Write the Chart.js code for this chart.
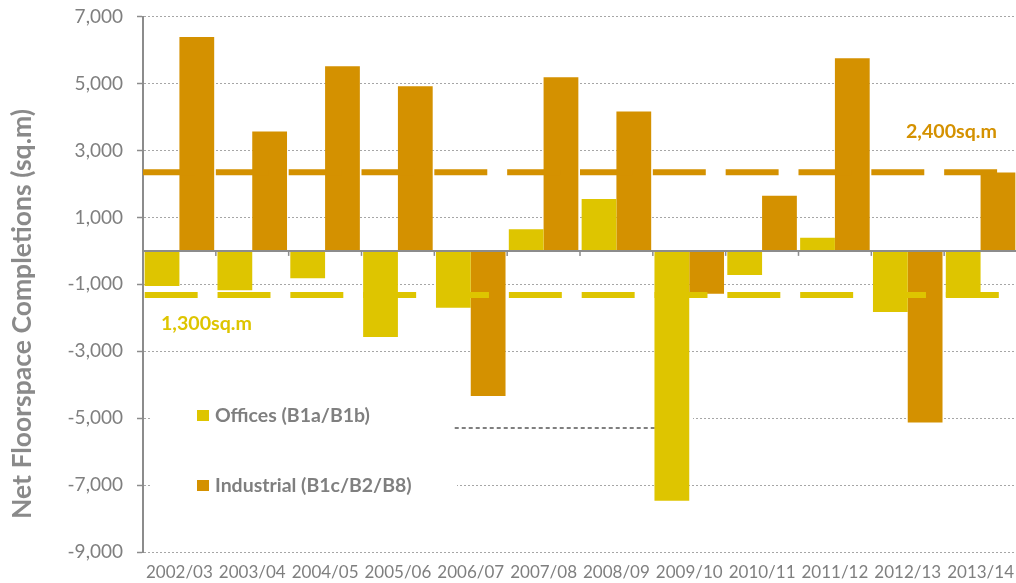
<!DOCTYPE html>
<html><head><meta charset="utf-8">
<script src="https://cdn.jsdelivr.net/npm/chart.js@4/dist/chart.umd.min.js"></script>
<style>html,body{margin:0;padding:0;overflow:hidden;background:#fff;width:1016px;height:583px}canvas{display:block}</style>
</head><body>
<canvas id="c" width="1024" height="583"></canvas>
<script>
const categories = ['2002/03','2003/04','2004/05','2005/06','2006/07','2007/08','2008/09','2009/10','2010/11','2011/12','2012/13','2013/14'];
const offices    = [-1050,-1180,-820,-2570,-1700,650,1550,-7470,-720,390,-1830,-1380];
const industrial = [6390,3570,5520,4920,-4340,5190,4170,-1280,1650,5760,-5130,2340];
const officesAverage = -1320;
const industrialAverage = 2350;
const yTicks = [-9000,-7000,-5000,-3000,-1000,1000,3000,5000,7000];
const seriesNames = ['Offices (B1a/B1b)','Industrial (B1c/B2/B8)'];
const averageLabels = ['1,300sq.m','2,400sq.m'];
const axisTitle = 'Net Floorspace Completions (sq.m)';
const guideFrom = 4.28, guideTo = 7.05, guideValue = -5290;

const YELLOW = '#DEC500', ORANGE = '#D49100', GREY = '#7f7f7f';

function fitFont(ctx, text, weight, family, target){
  ctx.font = weight + ' 20px ' + family;
  const w = ctx.measureText(text).width;
  return 20 * target / w;
}

function catPx(x, v){ // position in category units (0 = left edge of first category)
  return x.left + v * (x.right - x.left) / categories.length;
}

function avgLine(ctx, chart, value, color, offset){
  const x = chart.scales.x, y = chart.scales.y;
  const cw = (x.right - x.left) / categories.length;
  const py = y.getPixelForValue(value);
  ctx.save();
  ctx.strokeStyle = color;
  ctx.lineWidth = 6;
  ctx.lineCap = 'butt';
  ctx.setLineDash([cw * 0.727, cw * 0.273]);
  ctx.lineDashOffset = offset;
  ctx.beginPath(); ctx.moveTo(x.left, py); ctx.lineTo(x.right, py); ctx.stroke();
  ctx.restore();
}

const decor = {
  id: 'decor',
  beforeDatasetsDraw(chart){
    const ctx = chart.ctx, y = chart.scales.y, x = chart.scales.x;
    ctx.save();
    ctx.fillStyle = '#fff';
    const t1 = y.getPixelForValue(-4500), b1 = y.getPixelForValue(-7700);
    ctx.fillRect(152, t1, 457 - 152, b1 - t1);
    const t2 = y.getPixelForValue(-4850), b2 = y.getPixelForValue(-5150);
    ctx.fillRect(457, t2, 693 - 457, b2 - t2);
    const gy = y.getPixelForValue(guideValue);
    ctx.strokeStyle = '#7f7f7f'; ctx.lineWidth = 2; ctx.setLineDash([4, 3]);
    ctx.beginPath(); ctx.moveTo(catPx(x, guideFrom), gy); ctx.lineTo(catPx(x, guideTo), gy); ctx.stroke();
    ctx.restore();
  },
  afterDatasetsDraw(chart){
    const ctx = chart.ctx, y = chart.scales.y, x = chart.scales.x;
    avgLine(ctx, chart, industrialAverage, ORANGE, 0);
    avgLine(ctx, chart, officesAverage, YELLOW, -1.7);
    const y0 = y.getPixelForValue(0);
    ctx.save();
    ctx.strokeStyle = '#8c8c8c';
    ctx.lineWidth = 2;
    ctx.beginPath(); ctx.moveTo(x.left, y0); ctx.lineTo(x.right, y0); ctx.stroke();
    ctx.lineWidth = 1.5;
    for (let i = 1; i <= categories.length; i++){
      const px = catPx(x, i);
      ctx.beginPath(); ctx.moveTo(px, y0); ctx.lineTo(px, y0 + 5); ctx.stroke();
    }
    ctx.restore();
  },
  afterDraw(chart){
    const ctx = chart.ctx;
    ctx.save();
    ctx.textBaseline = 'middle';
    let fs = fitFont(ctx, axisTitle, 'bold', 'Lato', 410);
    ctx.font = 'bold ' + fs + 'px Lato';
    ctx.fillStyle = '#8a8a8a';
    ctx.translate(22, 314); ctx.rotate(-Math.PI/2);
    ctx.textAlign = 'center';
    ctx.fillText(axisTitle, 0, 0);
    ctx.setTransform(1,0,0,1,0,0);
    ctx.textAlign = 'left';
    fs = fitFont(ctx, seriesNames[0], 'bold', 'Lato', 155);
    ctx.font = 'bold ' + fs + 'px Lato';
    ctx.fillStyle = YELLOW; ctx.fillRect(197, 410, 12, 11);
    ctx.fillStyle = ORANGE; ctx.fillRect(197, 480, 12, 11);
    ctx.fillStyle = GREY;
    ctx.fillText(seriesNames[0], 215, 415.5);
    ctx.fillText(seriesNames[1], 215, 486);
    fs = fitFont(ctx, averageLabels[0], 'bold', 'Lato', 91);
    ctx.font = 'bold ' + fs + 'px Lato';
    ctx.fillStyle = YELLOW; ctx.fillText(averageLabels[0], 161, 324);
    ctx.fillStyle = ORANGE; ctx.fillText(averageLabels[1], 906, 132);
    ctx.restore();
  }
};

new Chart(document.getElementById('c'), {
  type: 'bar',
  data: {
    labels: categories,
    datasets: [
      {label: seriesNames[0], data: offices, backgroundColor: YELLOW},
      {label: seriesNames[1], data: industrial, backgroundColor: ORANGE}
    ]
  },
  options: {
    responsive: false, animation: false, devicePixelRatio: 1,
    categoryPercentage: 0.955, barPercentage: 1,
    layout: {padding: {top: 16.7, left: 0, right: 0, bottom: 0}},
    plugins: {legend: {display: false}, tooltip: {enabled: false}},
    scales: {
      x: {type: 'category', offset: true,
          grid: {display: false, drawTicks: false}, border: {display: false},
          ticks: {font: {family: 'Lato', size: 17}, color: GREY, padding: 10, maxRotation: 0, autoSkip: false},
          afterFit(s){ s.height = 31; }},
      y: {min: -9000, max: 7000,
          afterBuildTicks(s){ s.ticks = yTicks.map(v => ({value: v})); },
          ticks: {callback: v => v.toLocaleString('en-US'), font: {family: 'Lato', size: 19}, color: GREY, padding: 14},
          grid: {color: '#a6a6a6', lineWidth: 1, tickLength: 6, tickColor: '#8c8c8c', tickWidth: 1.5, tickBorderDash: []},
          border: {display: true, color: '#8c8c8c', width: 2, dash: [2, 2]},
          afterFit(s){ s.width = 143; s.paddingTop = 0; s.paddingBottom = 0; }}
    }
  },
  plugins: [decor]
});
</script>
</body></html>
